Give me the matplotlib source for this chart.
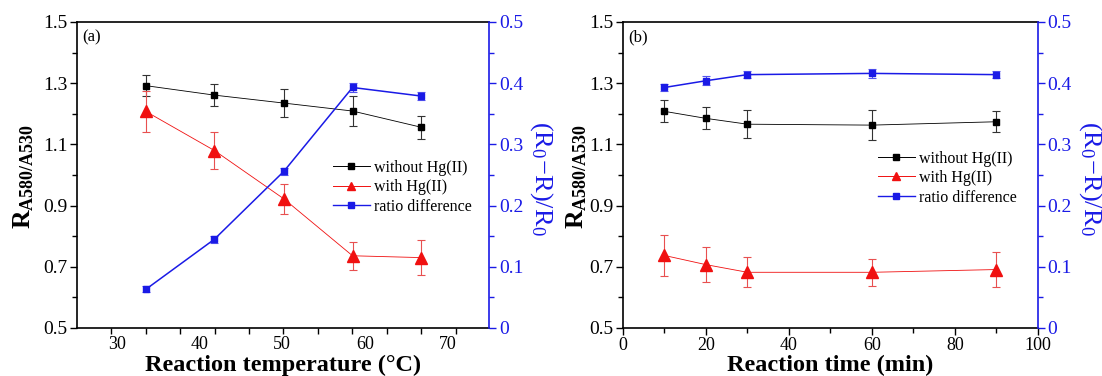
import matplotlib
matplotlib.use("Agg")
import numpy as np
import matplotlib.pyplot as plt
from matplotlib.lines import Line2D
from matplotlib.ticker import MultipleLocator, FormatStrFormatter, FuncFormatter

plt.rcParams['font.family'] = ['Liberation Serif', 'DejaVu Serif']
plt.rcParams['mathtext.fontset'] = 'custom'
plt.rcParams['mathtext.rm'] = 'Liberation Serif'
plt.rcParams['mathtext.bf'] = 'Liberation Serif:bold'
plt.rcParams['mathtext.it'] = 'Liberation Serif:italic'

# panel (a): reaction temperature
temp = [33.5, 41.8, 50.2, 58.5, 66.8]
temp_labels = [30, 40, 50, 60, 70]
temp_without = [1.292, 1.261, 1.235, 1.209, 1.156]
temp_without_err = [0.034, 0.037, 0.046, 0.048, 0.037]
temp_with = [1.208, 1.080, 0.922, 0.736, 0.730]
temp_with_err = [0.067, 0.059, 0.048, 0.045, 0.056]
temp_diff = [0.063, 0.145, 0.256, 0.393, 0.379]
temp_diff_err = [0.005, 0.006, 0.006, 0.007, 0.006]

# panel (b): reaction time
time = [10, 20, 30, 60, 90]
time_labels = [0, 20, 40, 60, 80, 100]
time_without = [1.208, 1.185, 1.166, 1.163, 1.174]
time_without_err = [0.036, 0.036, 0.046, 0.048, 0.035]
time_with = [0.737, 0.707, 0.682, 0.682, 0.691]
time_with_err = [0.066, 0.057, 0.049, 0.045, 0.056]
time_diff = [0.393, 0.404, 0.414, 0.416, 0.414]
time_diff_err = [0.006, 0.007, 0.006, 0.007, 0.006]

series_labels = ["without Hg(II)", "with Hg(II)", "ratio difference"]

BLUE = "#1a1ae6"
RED = "#f01010"


def draw_panel(ax, x, wo, wo_err, wi, wi_err, df, df_err, xlim, xlabel, tag,
               ylab_x, leg_xy):
    ax.errorbar(x, wo, yerr=wo_err, color="black", marker="s", ms=4.3,
                lw=0.6, elinewidth=0.8, capsize=3, ecolor="#333333",
                capthick=0.8)
    ax.errorbar(x, wi, yerr=wi_err, color=RED, marker="^", ms=8,
                lw=0.6, elinewidth=0.8, capsize=3, ecolor="#e85050",
                capthick=0.8)
    ax.set_xlim(*xlim)
    ax.set_ylim(0.5, 1.5)
    ax.set_yticks(np.arange(0.5, 1.51, 0.2))
    ax.yaxis.set_major_formatter(FormatStrFormatter("%.1f"))
    ax.yaxis.set_minor_locator(MultipleLocator(0.1))
    ax.tick_params(which="both", direction="out", labelsize=14, top=False,
                   right=False)
    ax.tick_params(which="major", length=5, width=1, pad=2)
    ax.tick_params(which="minor", length=3.5, width=1)
    ax.tick_params(axis="x", labelsize=13, pad=1.5)
    ax.set_xlabel(xlabel, fontsize=17.5, fontweight="bold")
    ax.xaxis.set_label_coords(0.5, -0.14)
    ax.xaxis.label.set_va("baseline")
    ax.set_ylabel(r"$\mathbf{R}_{\mathbf{A580/A530}}$", fontsize=18.5)
    ax.yaxis.set_label_coords(ylab_x, 0.495)
    ax.yaxis.label.set_va("center")
    ax.text(0.012, 0.975, tag, transform=ax.transAxes, fontsize=12,
            va="top")
    for s in ax.spines.values():
        s.set_linewidth(1.2)
    ax.spines["right"].set_visible(False)

    ax2 = ax.twinx()
    ax2.errorbar(x, df, yerr=df_err, color=BLUE, marker="s", ms=4.3,
                 lw=1.1, elinewidth=0.8, capsize=3, ecolor="#5555ee",
                 capthick=0.8)
    ax2.set_ylim(0, 0.5)
    ax2.yaxis.set_major_locator(MultipleLocator(0.1))
    ax2.yaxis.set_minor_locator(MultipleLocator(0.05))
    ax2.tick_params(which="both", direction="out", colors=BLUE, labelsize=14)
    ax2.tick_params(which="major", length=5, width=1, pad=2)
    ax2.tick_params(which="minor", length=3.5, width=1)
    for name, s in ax2.spines.items():
        s.set_visible(name == "right")
    ax2.spines["right"].set_color(BLUE)
    ax2.spines["right"].set_linewidth(1.2)
    ax2.yaxis.set_major_formatter(
        FuncFormatter(lambda v, p: "0" if abs(v) < 1e-9 else f"{v:.1f}"))
    ax2.set_ylabel(r"$(\mathrm{R}_0\!-\!\mathrm{R})/\mathrm{R}_0$",
                   fontsize=19, color=BLUE, rotation=270)
    ax2.yaxis.set_label_coords(1.127, 0.49)
    ax2.yaxis.label.set_va("center")
    ax2.yaxis.label.set_ha("center")

    handles = [
        Line2D([], [], color="black", marker="s", ms=4, lw=0.7),
        Line2D([], [], color=RED, marker="^", ms=6, lw=0.7),
        Line2D([], [], color=BLUE, marker="s", ms=4, lw=1.0),
    ]
    ax.legend(handles, series_labels, loc="center left",
              bbox_to_anchor=leg_xy, frameon=False, fontsize=11.5,
              borderpad=0, borderaxespad=0, handlelength=2.3,
              handletextpad=0.25, labelspacing=0.22)
    return ax2


fig = plt.figure(figsize=(11.02, 3.76), dpi=100)
ax_a = fig.add_axes([0.0699, 0.1277, 0.3739, 0.8138])
ax_b = fig.add_axes([0.5653, 0.1277, 0.3766, 0.8138])

draw_panel(ax_a, temp, temp_without, temp_without_err, temp_with,
           temp_with_err, temp_diff, temp_diff_err, (25.2, 75),
           "Reaction temperature (°C)", "(a)", -0.129, (0.621, 0.46))
draw_panel(ax_b, time, time_without, time_without_err, time_with,
           time_with_err, time_diff, time_diff_err, (0, 100),
           "Reaction time (min)", "(b)", -0.111, (0.614, 0.49))

# panel (a): labels at 30..70, tick marks on a grid through the data points
step = (temp[-1] - temp[0]) / (len(temp) - 1) / 2
ax_a.set_xticks(temp_labels)
ax_a.set_xticks(temp[0] + step * np.arange(-1, 2 * len(temp)), minor=True)
ax_a.tick_params(axis="x", which="major", length=0, pad=6)
ax_a.tick_params(axis="x", which="minor", length=4.5)

# panel (b): labelled every 20, ticks every 10
ax_b.set_xticks(time_labels)
ax_b.xaxis.set_minor_locator(MultipleLocator(10))

fig.savefig("out.png", dpi=100)
